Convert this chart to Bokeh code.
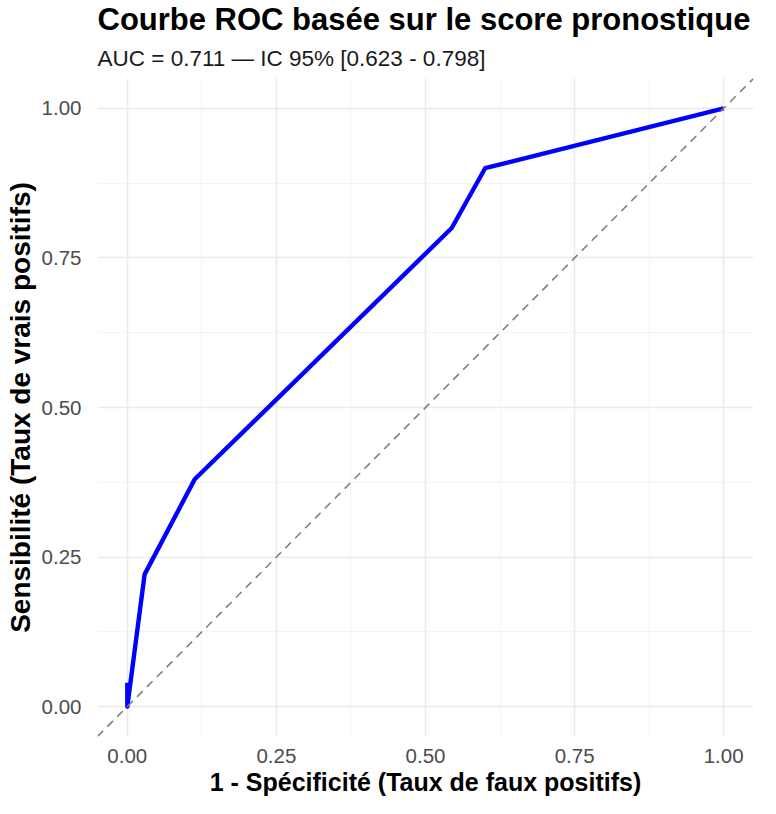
from bokeh.plotting import figure
from bokeh.models import Title, Range1d, FixedTicker, Slope
from bokeh.embed import file_html
from bokeh.resources import INLINE

fpr = [0.0, 0.0, 0.029, 0.113, 0.544, 0.600, 1.0]
tpr = [0.04, 0.0, 0.221, 0.380, 0.800, 0.900, 1.0]
ticks = [0.0, 0.25, 0.5, 0.75, 1.0]
tick_labels = {0.0: "0.00", 0.25: "0.25", 0.5: "0.50", 0.75: "0.75", 1.0: "1.00"}
minor = [0.125, 0.375, 0.625, 0.875]

FONT = "Liberation Sans"

p = figure(output_backend="svg", toolbar_location=None,
           x_range=Range1d(-0.05, 1.05), y_range=Range1d(-0.05, 1.05),
           frame_width=656, frame_height=658, min_border_left=97,
           min_border_right=6, min_border_top=78, min_border_bottom=0,
           title=None)

p.add_layout(Title(text="AUC = 0.711 \u2014 IC 95% [0.623 - 0.798]", text_font=FONT,
                   text_font_size="22.5px", text_font_style="normal", text_color="#1a1a1a",
                   standoff=16), "above")
p.add_layout(Title(text="Courbe ROC basée sur le score pronostique", text_font=FONT,
                   text_font_size="31px", text_font_style="bold", text_color="black",
                   standoff=-3), "above")

p.outline_line_color = None
p.background_fill_color = "white"

for ax in (p.xaxis, p.yaxis):
    ax.ticker = FixedTicker(ticks=ticks, minor_ticks=minor)
    ax.major_label_overrides = tick_labels
    ax.axis_line_color = None
    ax.major_tick_line_color = None
    ax.minor_tick_line_color = None
    ax.major_label_text_font = FONT
    ax.major_label_text_font_size = "20.5px"
    ax.major_label_text_color = "#4d4d4d"
    ax.axis_label_text_font = FONT
    ax.axis_label_text_font_style = "bold"
    ax.axis_label_text_color = "black"

p.xaxis.axis_label = "1 - Spécificité (Taux de faux positifs)"
p.yaxis.axis_label = "Sensibilité (Taux de vrais positifs)"
p.xaxis.axis_label_text_font_size = "25px"
p.yaxis.axis_label_text_font_size = "28px"
p.xaxis.major_label_standoff = 6
p.yaxis.major_label_standoff = 10
p.xaxis.axis_label_standoff = 2
p.yaxis.axis_label_standoff = 3

for g in (p.xgrid, p.ygrid):
    g.grid_line_color = "#ebebeb"
    g.grid_line_width = 1.6
    g.minor_grid_line_color = "#f2f2f2"
    g.minor_grid_line_width = 0.9

p.add_layout(Slope(gradient=1, y_intercept=0, line_color="#808080", line_width=1.6,
                   line_dash="8 6"))

p.line(fpr, tpr, line_color="#0000ff", line_width=4.4, line_join="round", line_cap="butt")

open("out.html", "w").write(file_html(p, INLINE))
